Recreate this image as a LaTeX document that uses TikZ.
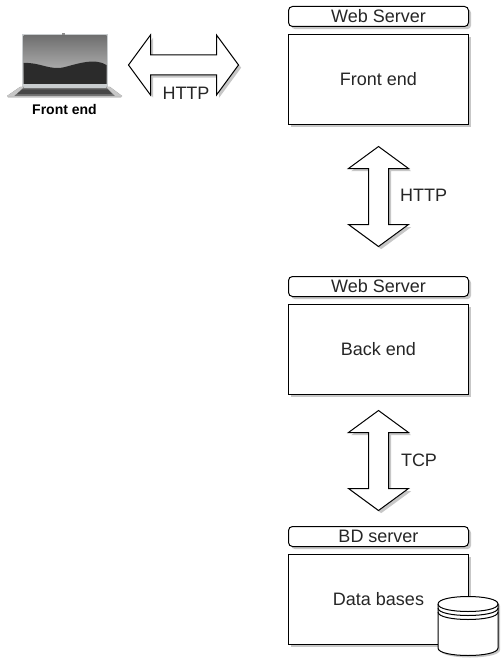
\documentclass[tikz,border=0pt]{standalone}
\usepackage{fontspec}
\setmainfont{Liberation Sans}
\usetikzlibrary{shadows,positioning,calc}
\definecolor{scrtop}{HTML}{707070}
\definecolor{scrbot}{HTML}{C6C6C6}
\definecolor{wave}{HTML}{2B2B2B}
\definecolor{frameg}{HTML}{C9CDCF}
\tikzset{
  x=0.75pt,y=-0.75pt,
  sh/.style={drop shadow={shadow xshift=2pt,shadow yshift=-2pt,fill=black,opacity=.22}},
  hdr/.style={draw=black,fill=white,line width=0.75pt,rounded corners=3pt,minimum width=135pt,minimum height=15pt,inner sep=0pt,font=\fontsize{13.5}{15}\selectfont,text=black!85,sh},
  box/.style={draw=black,fill=white,line width=0.75pt,minimum width=135pt,minimum height=67.5pt,inner sep=0pt,font=\fontsize{13.5}{15}\selectfont,text=black!85,sh},
  lbl/.style={inner sep=0pt,font=\fontsize{13.5}{15}\selectfont,text=black!85},
  dblarrow/.style={draw=black,fill=white,line width=0.75pt,line join=miter,sh},
  cyl/.style={draw=black,fill=white,line width=0.75pt}
}
\begin{document}
\begin{tikzpicture}
\useasboundingbox (0,0) rectangle (501,660);
\fill[white] (0,0) rectangle (501,660);
% server boxes
\node[hdr] (h1) at (378.5,16.5) {\raisebox{0.75pt}{Web Server}};
\node[box] (b1) at (378.5,79.5) {\raisebox{0.75pt}{Front end}};
\node[hdr] (h2) at (378.5,286.5) {\raisebox{0.75pt}{Web Server}};
\node[box] (b2) at (378.5,349.5) {\raisebox{0.75pt}{Back end}};
\node[hdr] (h3) at (378.5,536.5) {\raisebox{0.75pt}{BD server}};
\node[box] (b3) at (378.5,599.5) {\raisebox{0.75pt}{Data bases}};
% double arrows
\path[dblarrow] (128.5,65) -- (150.5,35) -- (150.5,55) -- (216.5,55) -- (216.5,35) -- (238.5,65) -- (216.5,95) -- (216.5,75) -- (150.5,75) -- (150.5,95) -- cycle;
\path[dblarrow] (378.5,146.5) -- (408.5,168.5) -- (388.5,168.5) -- (388.5,224.5) -- (408.5,224.5) -- (378.5,246.5) -- (348.5,224.5) -- (368.5,224.5) -- (368.5,168.5) -- (348.5,168.5) -- cycle;
\path[dblarrow] (378.5,410.5) -- (408.5,432.5) -- (388.5,432.5) -- (388.5,488.5) -- (408.5,488.5) -- (378.5,510.5) -- (348.5,488.5) -- (368.5,488.5) -- (368.5,432.5) -- (348.5,432.5) -- cycle;
\node[lbl] (l1) at (186,93) {HTTP};
\node[lbl] (l2) at (423.5,195.5) {HTTP};
\node[lbl] (l3) at (419,460) {TCP};
% database
\path[cyl,drop shadow={shadow xshift=1.5pt,shadow yshift=-1.5pt,fill=black,opacity=.22}]
  (438,604) .. controls (438,594) and (498,594) .. (498,604) -- (498,648) .. controls (498,658) and (438,658) .. (438,648) -- cycle;
\draw[cyl,fill=none] (438,604) .. controls (438,614) and (498,614) .. (498,604);
\draw[cyl,fill=none] (438,608) .. controls (438,618) and (498,618) .. (498,608);
\draw[cyl,fill=none] (438,612) .. controls (438,622) and (498,622) .. (498,612);
% laptop
\fill[frameg] (22,34) rectangle (108,88);
\fill[black!45] (62,33.5) rectangle (65,35);
\shade[top color=scrtop,bottom color=scrbot] (23.5,36) rectangle (106.5,84);
\fill[wave] (23.5,63) .. controls (40,62) and (50,71) .. (65,67) .. controls (80,63) and (95,58) .. (106.5,65) -- (106.5,84) -- (23.5,84) -- cycle;
\fill[black!55] (20,87) -- (110,87) -- (122,96) -- (7,96) -- cycle;
\fill[black!25] (7,96) -- (122,96) -- (121,97.5) -- (8,97.5) -- cycle;
\fill[frameg] (24,85) rectangle (106,88.5);
\fill[black!72] (22,89.5) -- (108,89.5) -- (112,94) -- (17,94) -- cycle;
\fill[black!22] (7,96) -- (20,87) -- (24,87) -- (14,96) -- cycle;
\fill[black!22] (122,96) -- (110,87) -- (106,87) -- (115,96) -- cycle;
\node[inner sep=0pt,font=\fontsize{10.5}{12}\selectfont\bfseries] (cap) at (64.5,109) {Front end};
\end{tikzpicture}
\end{document}
